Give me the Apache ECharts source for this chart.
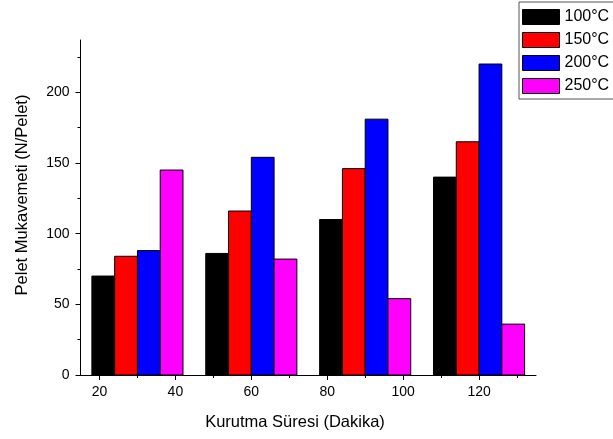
<!DOCTYPE html>
<html>
<head>
<meta charset="utf-8">
<script src="https://cdn.jsdelivr.net/npm/echarts@6/dist/echarts.min.js"></script>
<style>
  html, body { margin: 0; padding: 0; background: #fff; }
  #chart { width: 613px; height: 439px; }
</style>
</head>
<body>
<div id="chart"></div>
<script>
// group centres on the numeric x axis (Dakika)
const groupCenters = [30, 60, 90, 120]
const seriesNames = ['100°C', '150°C', '200°C', '250°C']
const values100 = [70, 86, 110, 140]
const values150 = [84, 116, 146, 165]
const values200 = [88, 154, 181, 220]
const values250 = [145, 82, 54, 36]
const xTickLabels = [20, 40, 60, 80, 100, 120]
const xMinorTicks = [30, 50, 70, 90, 110, 130]
const yTickLabels = [0, 50, 100, 150, 200]
const yMinorTicks = [25, 75, 125, 175, 225]

const colors = ['#000000', '#ff0000', '#0000ff', '#ff00ff']
const allValues = [values100, values150, values200, values250]
const barUnit = 6 // bar width in x-axis units
const font = "'Liberation Sans', Arial, sans-serif"

const myChart = echarts.init(document.getElementById('chart'))

const renderItem = (params, api) => {
  const s = params.seriesIndex
  const x = api.value(0)
  const y = api.value(1)
  const p0 = api.coord([x + (s - 2) * barUnit, y])
  const p1 = api.coord([x + (s - 1) * barUnit, 0])
  return {
    type: 'rect',
    shape: { x: p0[0], y: p0[1], width: p1[0] - p0[0], height: p1[1] - p0[1] },
    style: { fill: colors[s], stroke: '#000', lineWidth: 1 }
  }
}

const xBase = { type: 'value', min: 15, max: 135, position: 'bottom', splitLine: { show: false } }
const yBase = { type: 'value', min: 0, max: 237, position: 'left', splitLine: { show: false } }

const options = {
  animation: false,
  grid: { left: 80.5, right: 77, top: 40, bottom: 64, containLabel: false },
  legend: {
    orient: 'vertical',
    left: 519,
    top: 2,
    padding: [7, 5, 5, 3],
    itemGap: 7,
    itemWidth: 37,
    itemHeight: 15,
    borderColor: '#555',
    borderWidth: 1,
    icon: 'rect',
    itemStyle: { borderColor: '#000', borderWidth: 1 },
    textStyle: { fontFamily: font, fontSize: 16, color: '#000' },
    data: seriesNames
  },
  // axis titles (the reference puts them off the plot centre)
  graphic: [
    {
      type: 'text',
      x: 295,
      y: 422,
      style: {
        text: 'Kurutma Süresi (Dakika)',
        font: '16.5px ' + font,
        fill: '#000',
        align: 'center',
        verticalAlign: 'middle'
      }
    },
    {
      type: 'text',
      x: 22,
      y: 195,
      rotation: Math.PI / 2,
      style: {
        text: 'Pelet Mukavemeti (N/Pelet)',
        font: '16.5px ' + font,
        fill: '#000',
        align: 'center',
        verticalAlign: 'middle'
      }
    }
  ],
  xAxis: [
    {
      ...xBase,
      axisLine: { show: true, lineStyle: { color: '#000', width: 1 } },
      axisTick: { show: true, length: 5, customValues: xTickLabels, lineStyle: { color: '#000' } },
      axisLabel: { customValues: xTickLabels, margin: 10, fontFamily: font, fontSize: 14, color: '#000' }
    },
    {
      ...xBase,
      axisLine: { show: false },
      axisTick: { show: true, length: 3, customValues: xMinorTicks, lineStyle: { color: '#000' } },
      axisLabel: { show: false }
    }
  ],
  yAxis: [
    {
      ...yBase,
      axisLine: { show: true, lineStyle: { color: '#000', width: 1 } },
      axisTick: { show: true, length: 5, customValues: yTickLabels, lineStyle: { color: '#000' } },
      axisLabel: { customValues: yTickLabels, margin: 11, fontFamily: font, fontSize: 14, color: '#000' }
    },
    {
      ...yBase,
      axisLine: { show: false },
      axisTick: { show: true, length: 3, customValues: yMinorTicks, lineStyle: { color: '#000' } },
      axisLabel: { show: false }
    }
  ],
  series: seriesNames.map((name, i) => ({
    name: name,
    type: 'custom',
    renderItem: renderItem,
    xAxisIndex: 0,
    yAxisIndex: 0,
    itemStyle: { color: colors[i], borderColor: '#000', borderWidth: 1 },
    encode: { x: 0, y: 1 },
    data: groupCenters.map((c, j) => [c, allValues[i][j]])
  }))
}

myChart.setOption(options)
</script>
</body>
</html>
